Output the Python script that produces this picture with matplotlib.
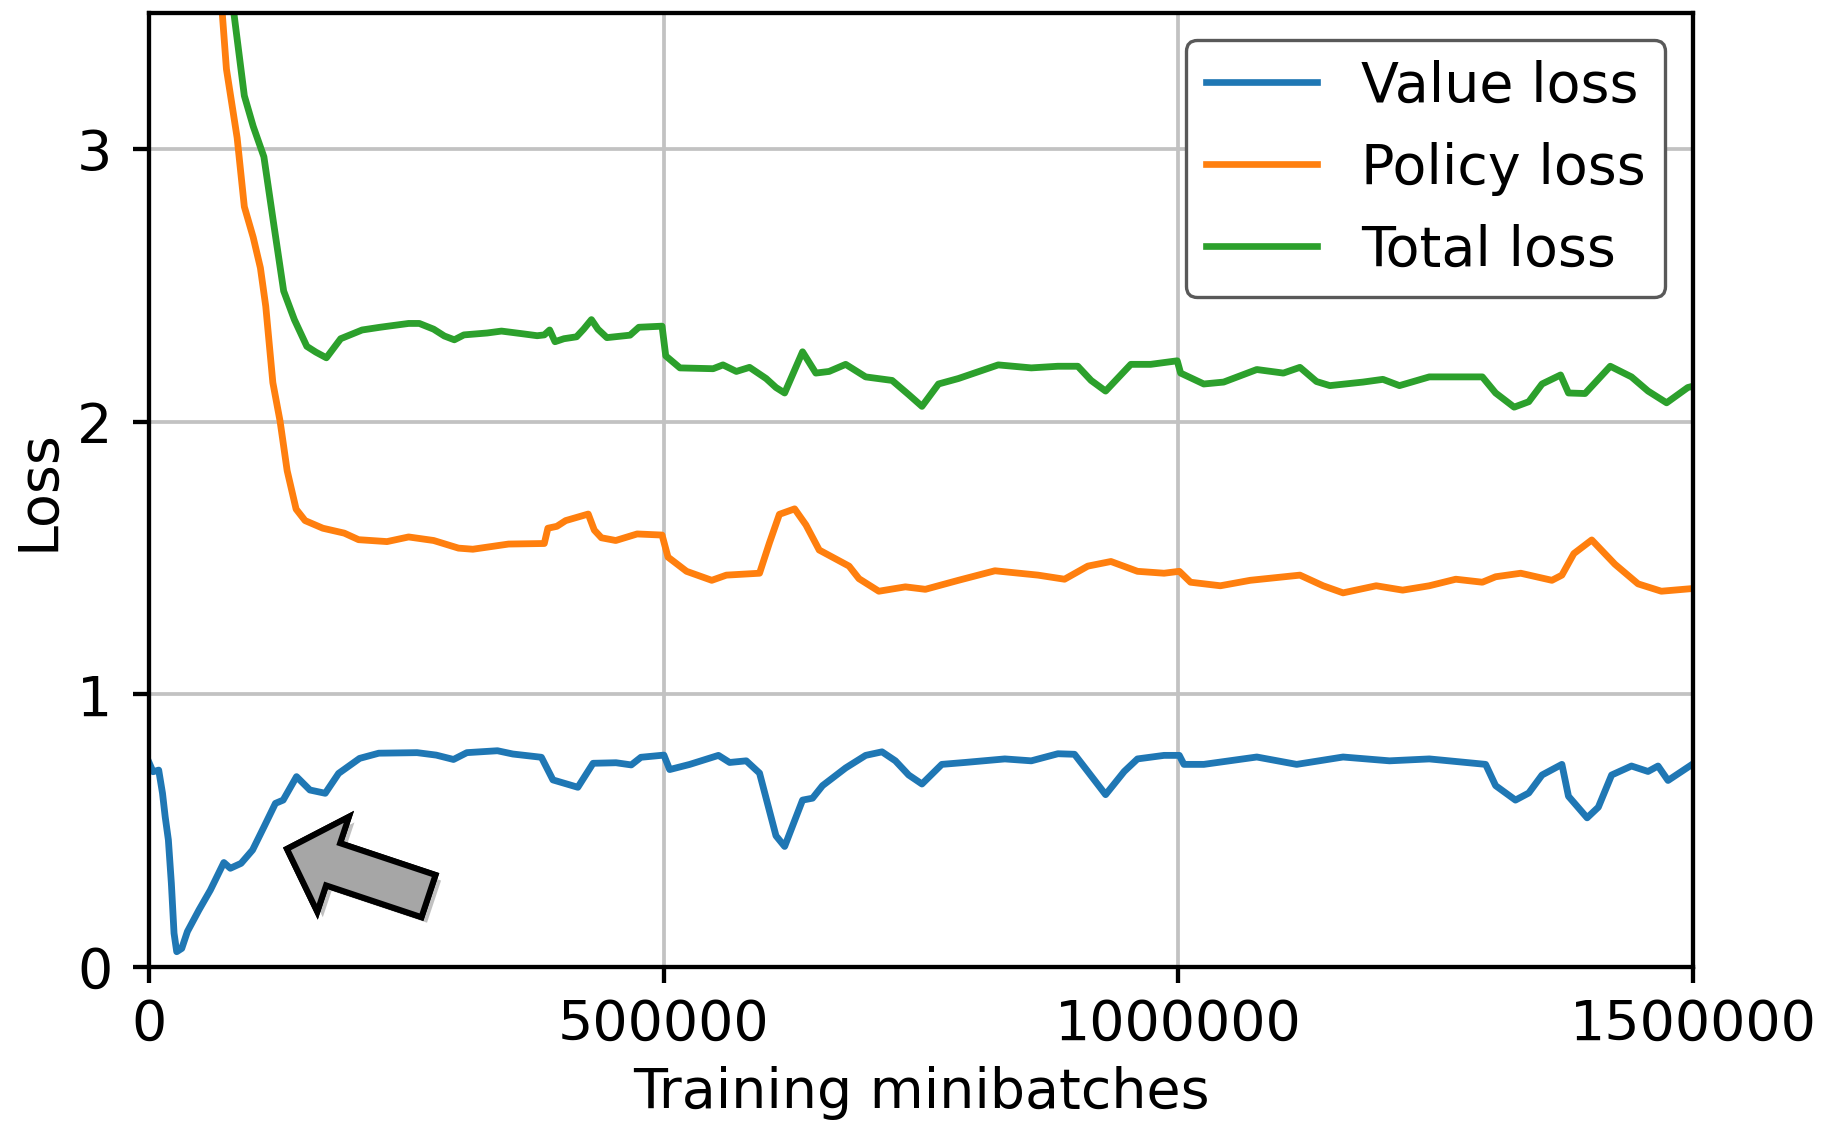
import matplotlib
matplotlib.use("Agg")
import matplotlib.pyplot as plt
import matplotlib.patheffects as pe
from matplotlib.patches import FancyArrowPatch, ArrowStyle

# minibatch index (x) and smoothed loss (y) for each curve
value_x = [0, 3900, 9400, 13100, 15700, 18800, 21700, 24300, 26900, 31800, 37300,
           48500, 59600, 72700, 79000, 89400, 100600, 111700, 122800, 130300,
           143300, 156300, 171200, 184200, 204600, 223200, 260400, 279000,
           295800, 308800, 338500, 353400, 381200, 392400, 416600, 431400,
           453700, 468500, 477900, 500200, 505800, 525400, 553200, 564100,
           580200, 593100, 602700, 609100, 617500, 634900, 644600, 654300,
           676800, 696200, 712100, 725100, 738000, 750900, 770200, 792700,
           831400, 857100, 883000, 899100, 912000, 929300, 947400, 960300,
           986100, 1000900, 1005400, 1024700, 1076200, 1114900, 1160000,
           1205100, 1243800, 1298500, 1308200, 1327500, 1340400, 1353300,
           1372600, 1379000, 1397100, 1408000, 1420900, 1440200, 1456300,
           1466000, 1475700, 1500000]
value_loss = [0.75, 0.716, 0.722, 0.637, 0.551, 0.466, 0.307, 0.124, 0.056, 0.068,
              0.130, 0.209, 0.282, 0.383, 0.362, 0.380, 0.429, 0.514, 0.600,
              0.612, 0.698, 0.649, 0.637, 0.710, 0.765, 0.784, 0.786, 0.777,
              0.761, 0.786, 0.793, 0.781, 0.769, 0.686, 0.659, 0.747, 0.749,
              0.741, 0.769, 0.777, 0.724, 0.743, 0.776, 0.750, 0.756, 0.711,
              0.573, 0.481, 0.442, 0.612, 0.619, 0.665, 0.730, 0.776, 0.789,
              0.756, 0.704, 0.671, 0.743, 0.750, 0.763, 0.756, 0.782, 0.780,
              0.717, 0.632, 0.717, 0.763, 0.776, 0.776, 0.743, 0.743, 0.770,
              0.743, 0.770, 0.756, 0.763, 0.743, 0.665, 0.612, 0.638, 0.704,
              0.743, 0.626, 0.547, 0.586, 0.704, 0.737, 0.717, 0.737, 0.684,
              0.745]

policy_x = [62000, 71000, 75200, 85600, 92600, 101200, 108200, 113400, 120300,
            127300, 134200, 142900, 151600, 168900, 189700, 203600, 231200,
            252200, 276500, 300700, 314600, 349300, 384000, 387500, 396200,
            404800, 426700, 432600, 439500, 453400, 474200, 498400, 504200,
            522200, 546700, 560900, 593100, 602700, 612400, 627200, 638200,
            651100, 680100, 689700, 709000, 734800, 754200, 786300, 821800,
            863700, 889400, 912000, 934500, 960300, 986100, 1000900, 1011800,
            1040800, 1069800, 1118100, 1140600, 1160000, 1192200, 1217900,
            1243800, 1269500, 1295300, 1308200, 1332600, 1362900, 1372600,
            1384200, 1401600, 1424100, 1446600, 1469200, 1500000]
policy_loss = [3.85, 3.505, 3.293, 3.041, 2.788, 2.676, 2.564, 2.423, 2.143,
               2.002, 1.820, 1.679, 1.637, 1.609, 1.591, 1.567, 1.560, 1.577,
               1.564, 1.536, 1.532, 1.551, 1.553, 1.609, 1.616, 1.637, 1.661,
               1.602, 1.574, 1.564, 1.588, 1.584, 1.503, 1.451, 1.418, 1.437,
               1.444, 1.555, 1.660, 1.680, 1.621, 1.529, 1.470, 1.424, 1.378,
               1.394, 1.385, 1.418, 1.453, 1.437, 1.422, 1.470, 1.487, 1.451,
               1.444, 1.451, 1.411, 1.398, 1.418, 1.437, 1.398, 1.372, 1.398,
               1.382, 1.398, 1.422, 1.411, 1.431, 1.444, 1.418, 1.437, 1.516,
               1.566, 1.477, 1.405, 1.378, 1.388]

total_x = [74000, 82200, 92600, 101200, 111600, 120300, 130800, 141200, 153300,
           162000, 172300, 186200, 207000, 224400, 252200, 262600, 276500,
           286900, 296600, 305900, 328500, 342400, 363200, 377100, 384000,
           389200, 394400, 403100, 415300, 422200, 429800, 436100, 444800,
           467300, 475900, 498400, 502000, 515800, 548000, 557600, 570600,
           583400, 599500, 609100, 617500, 634900, 647800, 660700, 676800,
           696200, 721900, 738000, 750900, 767000, 786300, 825000, 857100,
           883000, 902300, 915200, 929300, 953800, 973100, 998900, 1002200,
           1024700, 1044000, 1076200, 1102000, 1118100, 1134200, 1147200,
           1179400, 1198700, 1214800, 1243800, 1295300, 1308200, 1326200,
           1340400, 1353300, 1371300, 1379000, 1395100, 1419600, 1440200,
           1456300, 1474300, 1494900, 1500000]
total_loss = [3.85, 3.505, 3.195, 3.083, 2.971, 2.746, 2.479, 2.374, 2.276, 2.255,
              2.234, 2.304, 2.336, 2.346, 2.360, 2.360, 2.339, 2.314, 2.300,
              2.318, 2.325, 2.332, 2.322, 2.315, 2.318, 2.336, 2.293, 2.304,
              2.311, 2.339, 2.374, 2.339, 2.308, 2.317, 2.346, 2.350, 2.241,
              2.197, 2.194, 2.208, 2.184, 2.199, 2.158, 2.125, 2.105, 2.256,
              2.178, 2.184, 2.210, 2.164, 2.151, 2.099, 2.056, 2.138, 2.158,
              2.208, 2.197, 2.203, 2.203, 2.151, 2.112, 2.210, 2.210, 2.223,
              2.178, 2.138, 2.145, 2.191, 2.178, 2.199, 2.147, 2.132, 2.145,
              2.155, 2.132, 2.164, 2.164, 2.105, 2.053, 2.073, 2.138, 2.171,
              2.105, 2.103, 2.203, 2.164, 2.112, 2.069, 2.125, 2.13]

# arrow pointing at the early value-loss recovery
arrow_tail = (271500, 0.26)
arrow_head = (134000, 0.433)

plt.rcParams['font.family'] = 'DejaVu Sans'
plt.rcParams['font.size'] = 40

fig = plt.figure(figsize=(18.24, 11.24), dpi=100)
ax = fig.add_axes([0.0817, 0.1397, 0.8465, 0.8491])

lw = 4.9
ax.plot(value_x, value_loss, color='#1f77b4', lw=lw, label='Value loss')
ax.plot(policy_x, policy_loss, color='#ff7f0e', lw=lw, label='Policy loss')
ax.plot(total_x, total_loss, color='#2ca02c', lw=lw, label='Total loss')

ax.set_xlim(0, 1500000)
ax.set_ylim(0, 3.5)
ax.set_xticks([0, 500000, 1000000, 1500000])
ax.set_xticklabels(['0', '500000', '1000000', '1500000'])
ax.set_yticks([0, 1, 2, 3])
ax.grid(True, color='#c2c2c2', lw=2.7)
ax.set_axisbelow(True)

for s in ax.spines.values():
    s.set_linewidth(3.1)
ax.tick_params(width=3.1, length=11.5, labelsize=40)
ax.tick_params(axis='x', pad=11)
ax.tick_params(axis='y', pad=15)

ax.set_xlabel('Training minibatches', fontsize=40, labelpad=10)
ax.set_ylabel('Loss', fontsize=40, labelpad=8)

leg = ax.legend(loc='upper right', fontsize=40, fancybox=True,
                framealpha=1.0, edgecolor='0.35', labelspacing=0.5,
                borderpad=0.35, handlelength=2.0, handletextpad=0.8)
leg.get_frame().set_linewidth(2.4)
for h in leg.get_lines():
    h.set_linewidth(4.8)

style = ArrowStyle('Simple', head_length=35, head_width=72, tail_width=32)
arrow = FancyArrowPatch(arrow_tail, arrow_head, arrowstyle=style,
                        mutation_scale=1, shrinkA=0, shrinkB=0,
                        facecolor='#a6a6a6', edgecolor='black', lw=4.3,
                        joinstyle='miter', zorder=5)
arrow.set_path_effects([pe.withSimplePatchShadow(offset=(4, -4),
                                                 shadow_rgbFace='0.2',
                                                 alpha=0.3),
                        pe.Normal()])
ax.add_patch(arrow)

fig.savefig('out.png', dpi=100)
